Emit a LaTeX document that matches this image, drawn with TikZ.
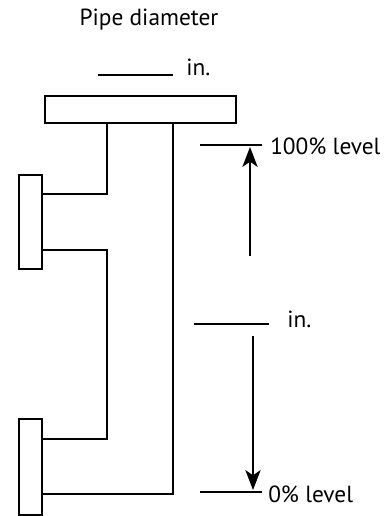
\documentclass[tikz,border=0pt]{standalone}
\usepackage{fontspec}
\setmainfont{PT Sans}
\usetikzlibrary{arrows.meta}

\begin{document}
\begin{tikzpicture}[x=0.75pt,y=-0.75pt,
    pipe/.style={line width=1.3pt},
    flange/.style={line width=1.6pt, fill=white},
    blank/.style={line width=2pt},
    levelline/.style={line width=1.1pt},
    levelarrow/.style={line width=1.1pt, -{Stealth[length=15pt,width=11.5pt,inset=4pt]}},
    lbl/.style={font=\fontsize{17.5}{20}\selectfont, inner sep=0pt}]
    \useasboundingbox (0,0) rectangle (391,516);

    % Pipe diameter label with blank
    \node[lbl, anchor=base] (title) at (149,26) {Pipe diameter};
    \draw[blank] (98,75) -- (173,75);
    \node[lbl, anchor=base west] (topin) at (186,76) {in.};

    % Standpipe lines
    \draw[pipe] (107,123) -- (107,194) -- (42,194);
    \draw[pipe] (42,250) -- (107,250) -- (107,439) -- (42,439);
    \draw[pipe] (173,123) -- (173,494) -- (42,494);

    % Top cap and side flanges
    \draw[flange] (45,96) rectangle (236,123);
    \draw[flange] (19,175) rectangle (42,269);
    \draw[flange] (19,419) rectangle (42,515);

    % 100% level
    \draw[levelline] (200,145) -- (262,145);
    \node[lbl, anchor=base west] (full) at (270,155) {100\% level};
    \coordinate (upstart) at (250,256);
    \coordinate (uptip) at (250,147);
    \draw[levelarrow] (upstart) -- (uptip);

    % Middle blank
    \draw[blank] (194,324) -- (269,324);
    \node[lbl, anchor=base west] (midin) at (287,327) {in.};

    % 0% level
    \coordinate (downstart) at (253,336);
    \coordinate (downtip) at (253,490);
    \draw[levelarrow] (downstart) -- (downtip);
    \draw[levelline] (200,492) -- (262,492);
    \node[lbl, anchor=base west] (empty) at (268,502) {0\% level};
\end{tikzpicture}
\end{document}
